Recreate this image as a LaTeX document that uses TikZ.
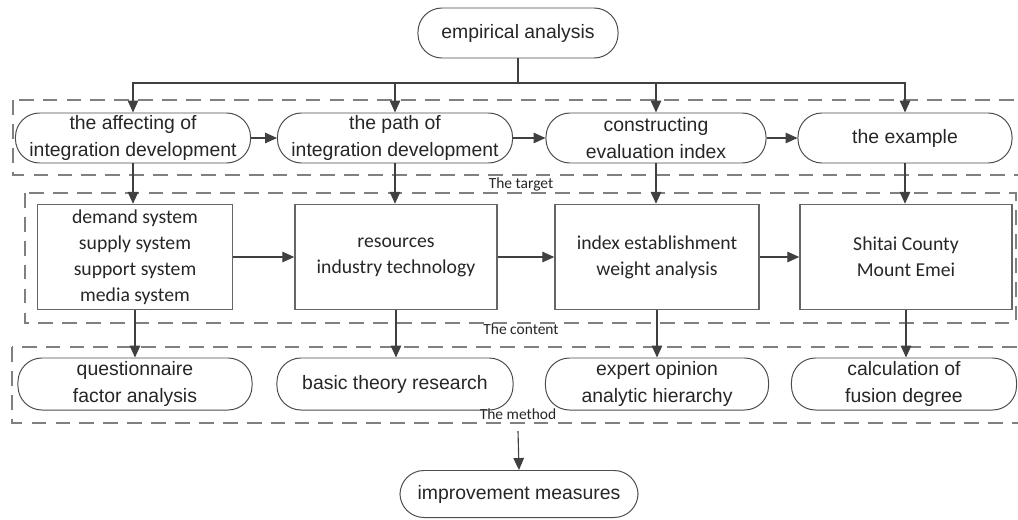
\documentclass[tikz,border=0pt]{standalone}
\usepackage{fontspec}
\setmainfont{Liberation Sans}
\newfontfamily\calib{Carlito}
\usetikzlibrary{arrows.meta}

\begin{document}
\begin{tikzpicture}[x=0.025cm,y=-0.025cm,
        stad/.style={draw=black!70,line width=0.7pt,rounded corners=0.6cm,minimum height=1.25cm,inner sep=0pt,align=center,text=black!85,font=\fontsize{13.8}{19.5}\selectfont},
        sys/.style={draw=black!60,line width=1pt,minimum height=2.625cm,inner sep=0pt,align=center,text=black!85,font=\calib\fontsize{14}{18.5}\selectfont},
        grp/.style={draw=black!50,line width=1.4pt,dash pattern=on 10.5pt off 6.5pt},
        tag/.style={text=black!85,inner sep=1pt,font=\calib\fontsize{11}{13}\selectfont},
        arr/.style={draw=black!75,line width=0.8pt,-{Triangle[length=8.5pt,width=7.5pt]}}]
                \clip (0,0) rectangle (1018,519);
                %% dashed groups
                \draw[grp] (13,100) rectangle (1024,175);
                \draw[grp] (25,193) rectangle (1016,323);
                \draw[grp] (12,347) rectangle (1024,423);
                \node[tag] (tgt) at (521,184) {The target};
                \node[tag] (cnt) at (521,329) {The content};
                \node[tag] (mth) at (518,414) {The method};
                %% top and bottom
                \node[stad,minimum width=5cm] (emp) at (518,33) {empirical analysis};
                \node[stad,minimum width=5.95cm,minimum height=1.175cm] (imp) at (519,494) {improvement measures};
                %% the target
                \node[stad,minimum width=5.875cm] (aff) at (133,138) {the affecting of\\integration development};
                \node[stad,minimum width=5.875cm] (pth) at (395,138) {the path of\\integration development};
                \node[stad,minimum width=5.5cm] (cei) at (656,138) {constructing\\evaluation index};
                \node[stad,minimum width=5.35cm] (exm) at (905,138) {the example};
                %% the content
                \node[sys,minimum width=4.875cm] (dem) at (135,257) {demand system\\supply system\\support system\\media system};
                \node[sys,minimum width=5.05cm] (res) at (396,257) {resources\\industry technology};
                \node[sys,minimum width=5.1cm] (idx) at (657,257) {index establishment\\weight analysis};
                \node[sys,minimum width=5.3cm] (shi) at (906,257) {Shitai County\\Mount Emei};
                %% the method
                \node[stad,minimum width=5.85cm,minimum height=1.3cm] (que) at (135,384) {questionnaire\\factor analysis};
                \node[stad,minimum width=5.9cm,minimum height=1.3cm] (bas) at (395,384) {basic theory research};
                \node[stad,minimum width=5.575cm,minimum height=1.3cm] (exp) at (657,384) {expert opinion\\analytic hierarchy};
                \node[stad,minimum width=5.625cm,minimum height=1.3cm] (cal) at (904,384) {calculation of\\fusion degree};
                %% connectors
                \coordinate (split) at (518,83);
                \coordinate (mout) at (518,431);
                \draw[draw=black!75,line width=0.8pt] (emp) -- (split);
                \foreach \t in {aff,pth,cei,exm}
                    \draw[arr] (split) -| (\t.north);
                \draw[arr] (aff) -- (pth);
                \draw[arr] (pth) -- (cei);
                \draw[arr] (cei) -- (exm);
                \draw[arr] (dem) -- (res);
                \draw[arr] (res) -- (idx);
                \draw[arr] (idx) -- (shi);
                \draw[arr] (aff.south) -- (aff.south |- dem.north);
                \draw[arr] (pth.south) -- (pth.south |- res.north);
                \draw[arr] (cei.south) -- (cei.south |- idx.north);
                \draw[arr] (exm.south) -- (exm.south |- shi.north);
                \draw[arr] (dem.south) -- (dem.south |- que.north);
                \draw[arr] (res.south) -- (res.south |- bas.north);
                \draw[arr] (idx.south) -- (idx.south |- exp.north);
                \draw[arr] (shi.south) -- (shi.south |- cal.north);
                \draw[arr] (mout) -- (imp.north);
\end{tikzpicture}
\end{document}
